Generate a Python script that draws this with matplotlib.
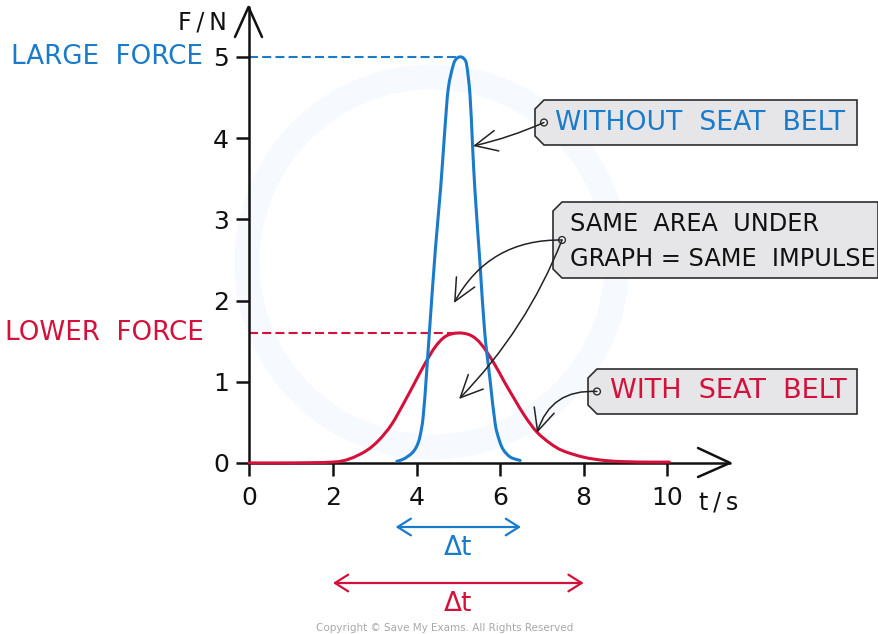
import matplotlib
matplotlib.use("Agg")
import matplotlib.pyplot as plt
from matplotlib.patches import Polygon, Circle, FancyArrowPatch, PathPatch
from matplotlib.path import Path
from matplotlib import transforms as mtransforms

# Force-time samples: collision without a seat belt (short, tall pulse)
blue_t = [3.53, 3.70, 3.89, 4.00, 4.08, 4.16, 4.24, 4.31, 4.45, 4.58, 4.68, 4.76,
          4.88, 4.96, 5.05, 5.13, 5.20, 5.28, 5.34, 5.40, 5.52, 5.63, 5.76, 5.88,
          5.98, 6.08, 6.25, 6.48]
blue_F = [0.02, 0.05, 0.12, 0.20, 0.32, 0.57, 1.10, 1.62, 2.62, 3.40, 4.12, 4.61,
          4.90, 4.98, 5.00, 4.98, 4.90, 4.53, 3.92, 3.34, 2.45, 1.62, 1.02, 0.49,
          0.28, 0.16, 0.07, 0.03]

# Force-time samples: collision with a seat belt (long, low pulse)
red_t = [0.0, 1.0, 2.0, 2.4, 2.8, 3.1, 3.4, 3.7, 3.95, 4.2, 4.45, 4.7, 5.0,
         5.3, 5.55, 5.85, 6.1, 6.35, 6.6, 6.88, 7.2, 7.5, 8.0, 8.5, 9.0, 9.5, 10.05]
red_F = [0.0, 0.0, 0.01, 0.05, 0.15, 0.28, 0.47, 0.74, 0.98, 1.22, 1.43, 1.56, 1.60,
         1.57, 1.46, 1.23, 1.00, 0.78, 0.57, 0.38, 0.24, 0.15, 0.07, 0.03, 0.015,
         0.01, 0.01]

x_ticks = [0, 2, 4, 6, 8, 10]
y_ticks = [0, 1, 2, 3, 4, 5]
peak_time = 5
large_force = 5
lower_force = 1.6
blue_span = (3.5, 6.5)
red_span = (2, 8)

BLUE = '#1b7bcb'
RED = '#d3113b'
INK = '#111111'
TAG_FILL = '#e6e6e8'
TAG_EDGE = '#2e2e2e'

plt.rcParams['font.family'] = ['DejaVu Sans']
plt.rcParams['lines.scale_dashes'] = False

W, H = 879, 634
fig = plt.figure(figsize=(W / 100, H / 100), dpi=100)
fig.patch.set_facecolor('white')
# pixel coordinates measured from the top-left corner
px = mtransforms.Affine2D().scale(1 / W, -1 / H).translate(0, 1) + fig.transFigure

# origin position and scale of the plotting area (pixels)
ox, oy = 249.3, 462.9
sx, sy = 41.8, 81.2
x_end, y_top = 730, 7
ax = fig.add_axes([ox / W, (H - oy) / H, (x_end - ox) / W, (oy - y_top) / H])
ax.set_xlim(0, (x_end - ox) / sx)
ax.set_ylim(0, (oy - y_top) / sy)
ax.patch.set_alpha(0)

# faint background ring
fig.add_artist(Circle((432, 262), 185, transform=px, fill=False,
                      ec='#f6f9fd', lw=18, zorder=0))

for side in ('top', 'right'):
    ax.spines[side].set_visible(False)
for side in ('left', 'bottom'):
    ax.spines[side].set_linewidth(1.8)
    ax.spines[side].set_color(INK)
    ax.spines[side].set_capstyle('round')

ax.set_xticks(x_ticks)
ax.set_yticks(y_ticks)
ax.tick_params(direction='out', length=9.5, width=1.8, colors=INK,
               labelsize=18, pad=5)
ax.tick_params(axis='x', pad=7)

# open chevrons at the ends of both axes
chev = dict(color=INK, lw=1.8, solid_capstyle='round', solid_joinstyle='round',
            transform=px, clip_on=False)
fig.add_artist(plt.Line2D([235, 248.5, 262], [37, 7, 37], **chev))
fig.add_artist(plt.Line2D([698, 730, 698], [448, 462.9, 477], **chev))

fig.text(202, 23, 'F\u2009/\u2009N', transform=px, fontsize=17, color=INK,
         ha='center', va='center')
fig.text(719, 503, 't\u2009/\u2009s', transform=px, fontsize=17, color=INK,
         ha='center', va='center')


def smooth_curve(xs, ys):
    """Cubic Bezier path passing through every sample (Catmull-Rom tangents)."""
    pts = list(zip(xs, ys))
    verts = [pts[0]]
    codes = [Path.MOVETO]
    n = len(pts)
    for i in range(n - 1):
        p0 = pts[i - 1] if i > 0 else pts[i]
        p1, p2 = pts[i], pts[i + 1]
        p3 = pts[i + 2] if i + 2 < n else pts[i + 1]
        c1 = (p1[0] + (p2[0] - p0[0]) / 6, p1[1] + (p2[1] - p0[1]) / 6)
        c2 = (p2[0] - (p3[0] - p1[0]) / 6, p2[1] - (p3[1] - p1[1]) / 6)
        verts += [c1, c2, p2]
        codes += [Path.CURVE4] * 3
    return Path(verts, codes)


ax.add_patch(PathPatch(smooth_curve(red_t, red_F), fill=False, ec=RED, lw=2.2,
                       capstyle='round', clip_on=False, zorder=3))
ax.add_patch(PathPatch(smooth_curve(blue_t, blue_F), fill=False, ec=BLUE, lw=2.2,
                       capstyle='round', clip_on=False, zorder=4))

# dashed guides to the peak forces
ax.plot([0, peak_time], [large_force, large_force], color=BLUE, lw=1.5,
        dashes=(6.5, 3), clip_on=False)
ax.plot([0, peak_time], [lower_force, lower_force], color=RED, lw=1.5,
        dashes=(6.5, 3), clip_on=False)

ax.text(-1.1, large_force, 'LARGE  FORCE', color=BLUE, fontsize=18.8,
        ha='right', va='center', clip_on=False)
ax.text(-1.1, lower_force, 'LOWER  FORCE', color=RED, fontsize=18.8,
        ha='right', va='center', clip_on=False)


def tag(left, top, right, bottom, cut=9):
    verts = [(left + cut, top), (right, top), (right, bottom), (left + cut, bottom),
             (left, bottom - cut), (left, top + cut)]
    fig.add_artist(Polygon(verts, closed=True, transform=px, fc=TAG_FILL,
                           ec=TAG_EDGE, lw=1.2, zorder=2))
    hole = (left + 9, (top + bottom) / 2)
    fig.add_artist(Circle(hole, 3.4, transform=px, fc='#f4f4f4', ec=TAG_EDGE,
                          lw=1.0, zorder=3))
    return hole


h1 = tag(535, 100, 857, 145)
fig.text(555, 123, 'WITHOUT  SEAT  BELT', transform=px, color=BLUE, fontsize=19.2,
         ha='left', va='center', zorder=3)

h2 = tag(553, 202, 878, 278)
fig.text(570, 224, 'SAME  AREA  UNDER', transform=px, color=INK, fontsize=17.3,
         ha='left', va='center', zorder=3)
fig.text(570, 259, 'GRAPH = SAME  IMPULSE', transform=px, color=INK, fontsize=17.3,
         ha='left', va='center', zorder=3)

h3 = tag(588, 369, 857, 414)
fig.text(610, 391, 'WITH  SEAT  BELT', transform=px, color=RED, fontsize=19.5,
         ha='left', va='center', zorder=3)

# curved pointer arrows from the tags
pointer = '->,head_length=1.6,head_width=0.75'
for start, end, rad in [(h1, (473, 146), -0.05),
                        (h2, (454, 303), 0.3),
                        (h2, (459, 399), -0.1),
                        (h3, (537, 433), 0.39)]:
    fig.add_artist(FancyArrowPatch(start, end, transform=px,
                                   connectionstyle=f'arc3,rad={rad}',
                                   arrowstyle=pointer, mutation_scale=10,
                                   lw=1.1, color='#222222', shrinkA=0, shrinkB=0,
                                   zorder=5))

# duration arrows below the axis
y_blue = (oy - 527) / sy
y_red = (oy - 583) / sy
span_style = '<->,head_length=0.95,head_width=0.6'
ax.annotate('', xy=(blue_span[1], y_blue), xytext=(blue_span[0], y_blue),
            arrowprops=dict(arrowstyle=span_style, color=BLUE, lw=1.6,
                            shrinkA=0, shrinkB=0, mutation_scale=10),
            annotation_clip=False)
ax.annotate('', xy=(red_span[1], y_red), xytext=(red_span[0], y_red),
            arrowprops=dict(arrowstyle=span_style, color=RED, lw=1.6,
                            shrinkA=0, shrinkB=0, mutation_scale=10),
            annotation_clip=False)
ax.text(sum(blue_span) / 2, (oy - 548) / sy, 'Δt', color=BLUE, fontsize=19,
        ha='center', va='center', clip_on=False)
ax.text(sum(red_span) / 2, (oy - 604) / sy, 'Δt', color=RED, fontsize=19,
        ha='center', va='center', clip_on=False)

fig.text(445, 628, 'Copyright © Save My Exams. All Rights Reserved', transform=px,
         color='#a8a8a8', fontsize=7.5, ha='center', va='center')

fig.savefig('out.png', dpi=100)
